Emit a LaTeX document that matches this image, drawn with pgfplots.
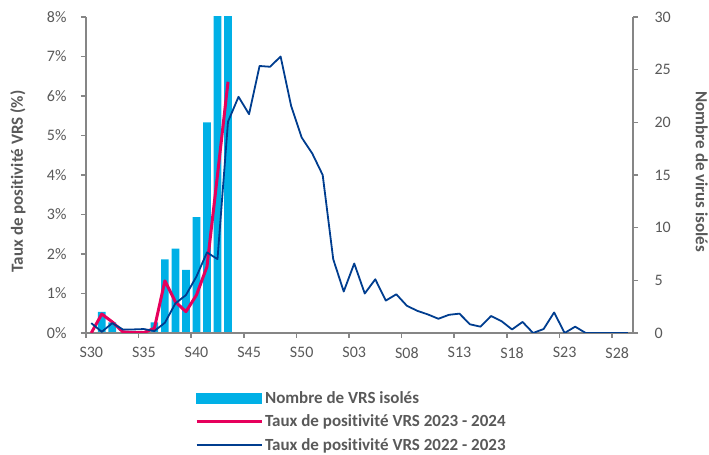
\documentclass[border=0pt]{standalone}
\usepackage{pgfplots}
\usepackage{pgfplotstable}
\pgfplotsset{compat=1.18}
\usepackage{fontspec}
\setmainfont{Carlito}[Ligatures=NoCommon]
\definecolor{barc}{RGB}{0,176,230}
\definecolor{redc}{RGB}{230,0,92}
\definecolor{bluec}{RGB}{0,61,143}
\definecolor{axc}{RGB}{134,134,134}
\definecolor{txt}{RGB}{89,89,89}

\pgfplotstableread{
i c
0 0
1 2
2 1
3 0
4 0
5 0
6 1
7 7
8 8
9 6
10 11
11 20
12 36
13 42
}\bartab

\pgfplotstableread{
i p
0 0.0
1 0.48
2 0.28
3 0.03
4 0.01
5 0.01
6 0.12
7 1.32
8 0.79
9 0.54
10 0.96
11 1.68
12 4.0
13 6.36
}\redtab

\pgfplotstableread{
i p
0 0.25
1 0.03
2 0.25
3 0.09
4 0.09
5 0.10
6 0.05
7 0.26
8 0.75
9 0.96
10 1.43
11 2.04
12 1.87
13 5.35
14 5.98
15 5.54
16 6.76
17 6.74
18 7.00
19 5.75
20 4.95
21 4.55
22 4.00
23 1.87
24 1.05
25 1.76
26 1.00
27 1.36
28 0.82
29 0.98
30 0.69
31 0.56
32 0.47
33 0.36
34 0.46
35 0.49
36 0.22
37 0.16
38 0.43
39 0.30
40 0.09
41 0.28
42 0.00
43 0.10
44 0.52
45 0.00
46 0.16
47 0.00
48 0.00
49 0.00
50 0.00
51 0.00
}\bluetab

\begin{document}
\begin{tikzpicture}
\pgfplotsset{
  common/.style={
    width=547pt, height=316pt, scale only axis,
    xmin=-0.5, xmax=51.5,
    /pgf/number format/assume math mode=true,
    axis line style={axc, line width=1.5pt, -},
    tick style={axc, line width=1.5pt},
    major tick length=5pt, tick align=outside,
    tick label style={font=\fontsize{16}{19}\selectfont, text=txt},
  }
}
\begin{axis}[common,
  ymin=0, ymax=30,
  axis y line*=right, axis x line=none,
  ytick={0,5,...,30},
  yticklabels={0,5,10,15,20,25,30},
  y tick label style={anchor=west, xshift=13pt},
  ylabel={Nombre de virus isolés},
  every axis y label/.style={at={(axis description cs:1.1256,0.51)}, anchor=center, rotate=-90, font=\bfseries\fontsize{17}{20}\selectfont, text=txt},
]
\addplot[ybar, bar width=0.73, fill=barc, draw=none] table[x=i, y=c] {\bartab};
\end{axis}
\begin{axis}[common,
  ymin=0, ymax=8,
  axis y line*=left, axis x line*=bottom,
  ytick={0,1,...,8},
  yticklabels={0\%,1\%,2\%,3\%,4\%,5\%,6\%,7\%,8\%},
  y tick label style={anchor=east, xshift=-11pt},
  xtick={-0.5,4.5,...,49.5},
  xticklabels={S30,S35,S40,S45,S50,S03,S08,S13,S18,S23,S28},
  x tick label style={anchor=north, xshift=5.3pt, yshift=-6pt},
  ylabel={Taux de positivité VRS (\%)},
  every axis y label/.style={at={(axis description cs:-0.1243,0.48)}, anchor=center, rotate=90, font=\bfseries\fontsize{17}{20}\selectfont, text=txt},
  legend style={at={(axis description cs:0.199,-0.178)}, anchor=north west, draw=none, fill=none, inner sep=0pt,
    font=\bfseries\fontsize{17}{20}\selectfont, text=txt, row sep=6pt, cells={anchor=west}},
  legend cell align=left,
]
\coordinate (sw) at (rel axis cs:0,0);
\coordinate (ne) at (rel axis cs:1,1);
\addlegendimage{legend image code/.code={\fill[barc] (0pt,-5pt) rectangle (65pt,5pt);}}
\addlegendentry{Nombre de VRS isolés}
\addplot[redc, line width=3pt, line join=round, legend image code/.code={\draw[redc, line width=3pt] (0pt,0pt) -- (65pt,0pt);}] table[x=i, y=p] {\redtab};
\addlegendentry{Taux de positivité VRS 2023 - 2024}
\addplot[bluec, line width=1.8pt, line join=round, legend image code/.code={\draw[bluec, line width=1.8pt] (0pt,0pt) -- (65pt,0pt);}] table[x=i, y=p] {\bluetab};
\addlegendentry{Taux de positivité VRS 2022 - 2023}
\end{axis}
\pgfresetboundingbox
\path[use as bounding box] ([shift={(-86pt,-122pt)}]sw) rectangle ([shift={(76pt,17pt)}]ne);
\end{tikzpicture}
\end{document}
